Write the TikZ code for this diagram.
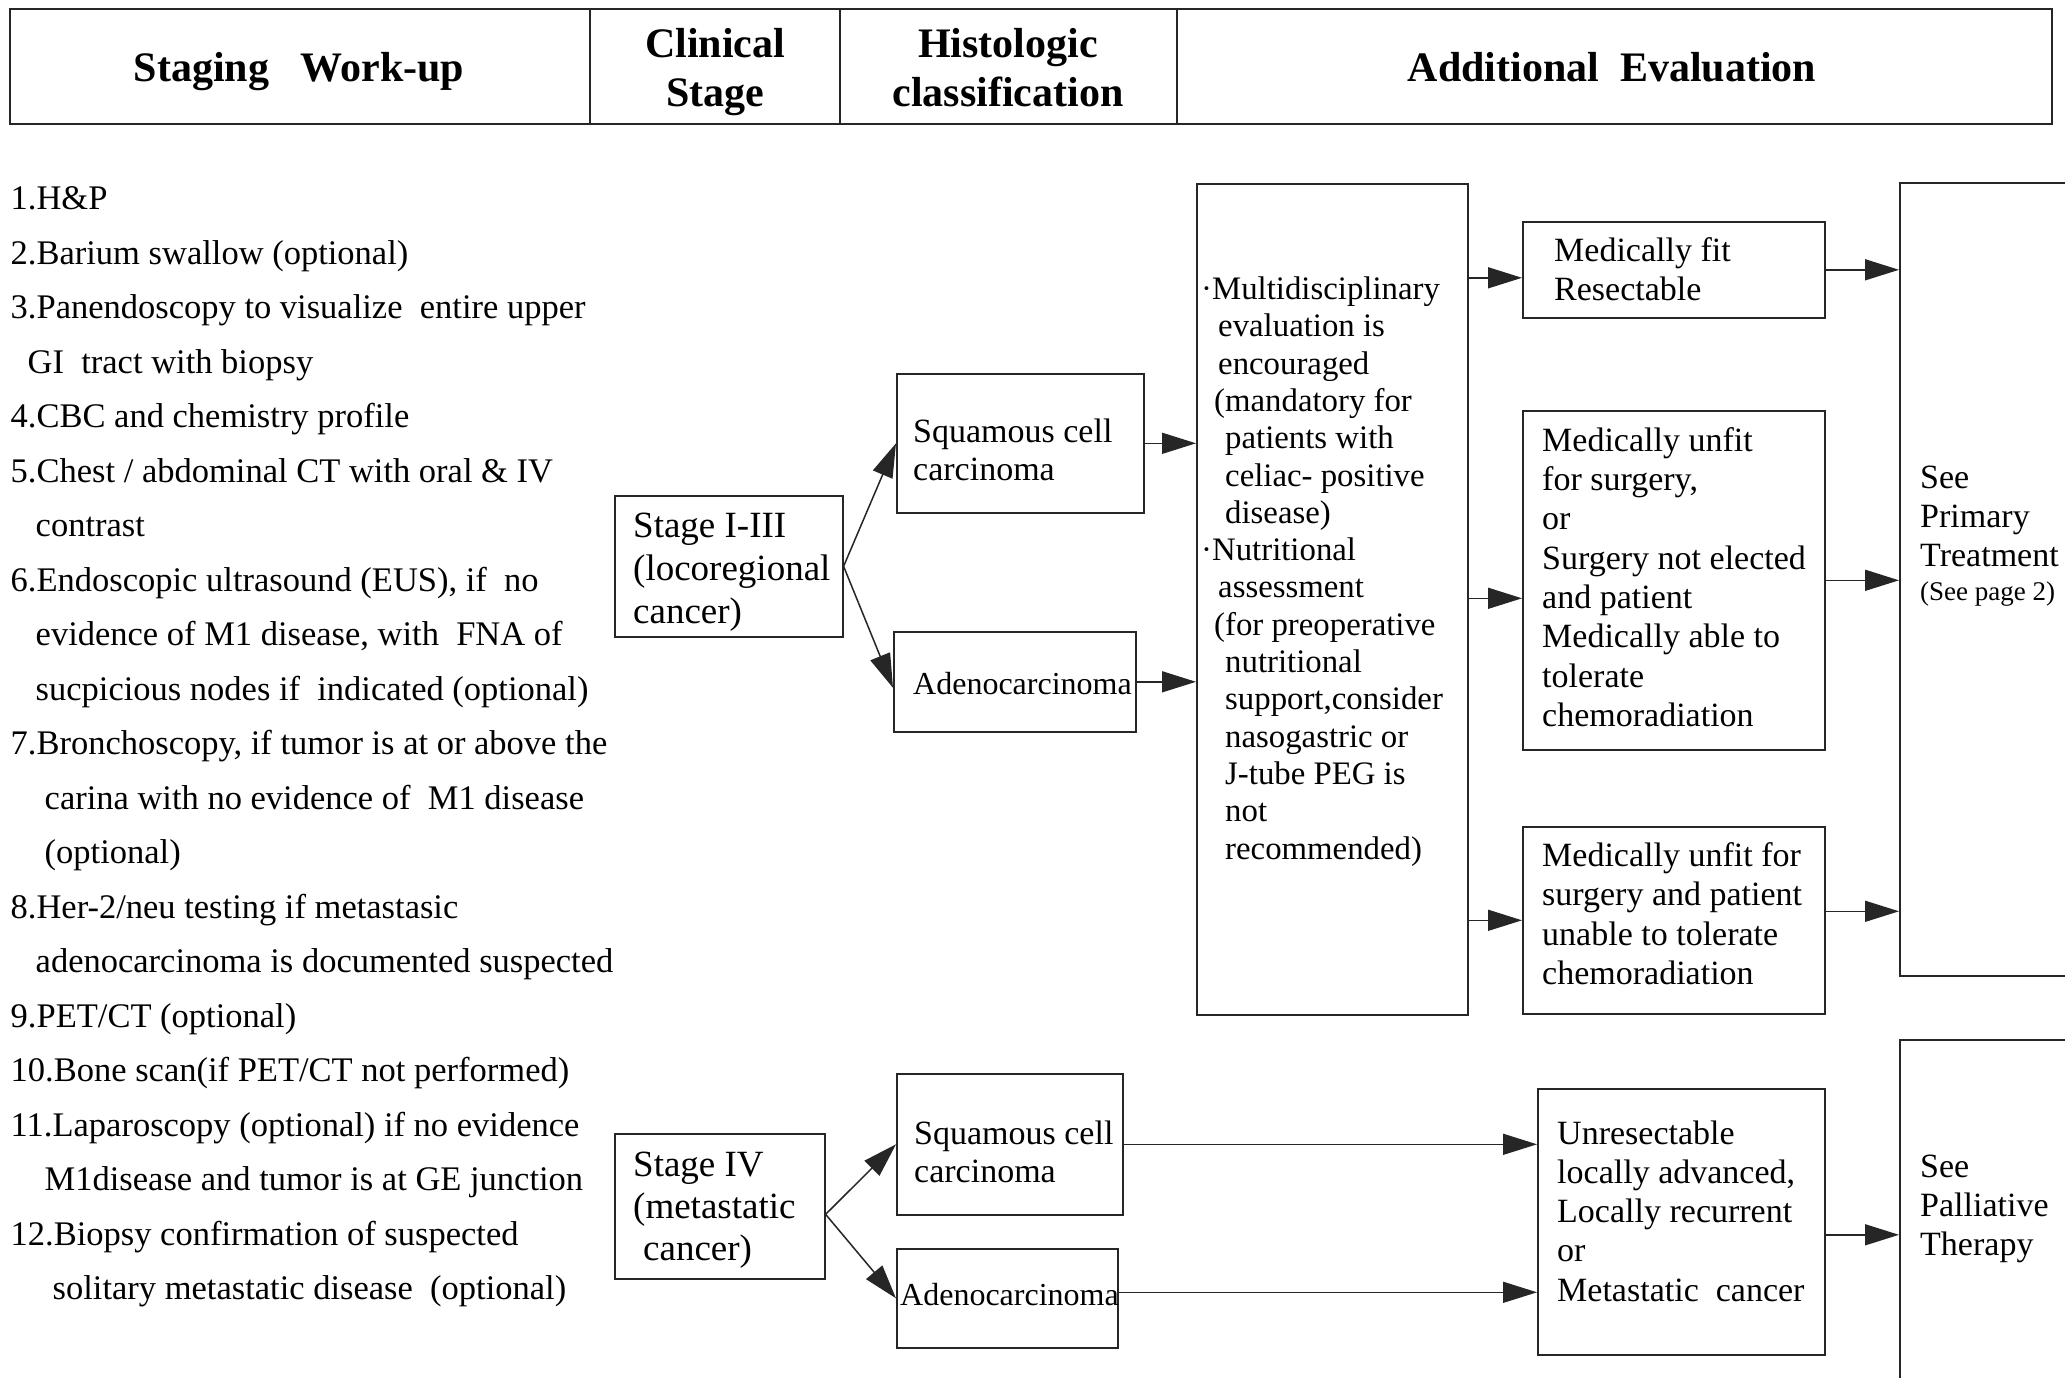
\documentclass[tikz,border=0pt]{standalone}
\usepackage{fontspec}
\setmainfont{Liberation Serif}
\usetikzlibrary{arrows.meta}
\newcommand{\firststrut}{\rule{0pt}{1em}}
\tikzset{
  box/.style={draw=black!85, line width=1.6pt, inner sep=0pt, anchor=north west},
  txt/.style={anchor=north west, inner sep=0pt, align=left},
  hdr/.style={anchor=north, inner sep=0pt, align=center, font=\fontsize{42}{49}\selectfont\bfseries},
  arr/.style={draw=black!85, line width=1.5pt, -{Triangle[length=34pt,width=21pt]}},
  rule/.style={draw=black!85, line width=1.6pt},
}
\begin{document}
\begin{tikzpicture}[x=1pt,y=1pt]
\useasboundingbox (0,0) rectangle (2065,-1378);
\clip (0,0) rectangle (2065,-1378);
\fill[white] (0,0) rectangle (2065,-1378);

% header
\node[box, minimum width=2042pt, minimum height=115pt] (head) at (9,-8) {};
\draw[rule] (590,-8) -- (590,-123);
\draw[rule] (840,-8) -- (840,-123);
\draw[rule] (1177,-8) -- (1177,-123);
\node[hdr] (h1) at (299,-39) {\firststrut Staging\ \ \ Work-up};
\node[hdr] (h2) at (715,-15) {\firststrut Clinical\\Stage};
\node[hdr] (h3) at (1008,-15) {\firststrut Histologic\\classification};
\node[hdr] (h4) at (1612,-39) {\firststrut Additional\ \ Evaluation};

% left list
\node[txt, font=\fontsize{34.5}{54.5}\selectfont] (list) at (10.5,-175) {\firststrut 1.H\&P\\
2.Barium swallow (optional)\\
3.Panendoscopy to visualize\ \ entire upper\\
\hspace*{17pt}GI\ \ tract with biopsy\\
4.CBC and chemistry profile\\
5.Chest / abdominal CT with oral \& IV\\
\hspace*{25pt}contrast\\
6.Endoscopic ultrasound (EUS), if\ \ no\\
\hspace*{25pt}evidence of M1 disease, with\ \ FNA of\\
\hspace*{25pt}sucpicious nodes if\ \ indicated (optional)\\
7.Bronchoscopy, if tumor is at or above the\\
\hspace*{34pt}carina with no evidence of\ \ M1 disease\\
\hspace*{34pt}(optional)\\
8.Her-2/neu testing if metastasic\\
\hspace*{25pt}adenocarcinoma is documented suspected\\
9.PET/CT (optional)\\
10.Bone scan(if PET/CT not performed)\\
11.Laparoscopy (optional) if no evidence\\
\hspace*{34pt}M1disease and tumor is at GE junction\\
12.Biopsy confirmation of suspected\\
\hspace*{42pt}solitary metastatic disease\ \ (optional)};

% boxes
\node[box, minimum width=228pt, minimum height=141pt] (stage13) at (614,-495) {};
\node[box, minimum width=247pt, minimum height=139pt] (sq1) at (896,-373) {};
\node[box, minimum width=242pt, minimum height=100pt] (ad1) at (893,-631) {};
\node[box, minimum width=271pt, minimum height=831pt] (multi) at (1196,-183) {};
\node[box, minimum width=302pt, minimum height=96pt] (fit) at (1522,-221) {};
\node[box, minimum width=302pt, minimum height=339pt] (unfit2) at (1522,-410) {};
\node[box, minimum width=302pt, minimum height=187pt] (unfit3) at (1522,-826) {};
\node[box, minimum width=250pt, minimum height=793pt] (prim) at (1899,-182) {};
\node[box, minimum width=210pt, minimum height=145pt] (stage4) at (614,-1133) {};
\node[box, minimum width=226pt, minimum height=141pt] (sq2) at (896,-1073) {};
\node[box, minimum width=221pt, minimum height=99pt] (ad2) at (896,-1248) {};
\node[box, minimum width=287pt, minimum height=266pt] (unres) at (1537,-1088) {};
\node[box, minimum width=250pt, minimum height=400pt] (pall) at (1899,-1039) {};

% texts
\node[txt, font=\fontsize{37}{43}\selectfont] (t13) at (633,-500) {\firststrut Stage I-III\\(locoregional\\cancer)};
\node[txt, font=\fontsize{34}{38}\selectfont] (tsq1) at (913,-408) {\firststrut Squamous cell\\carcinoma};
\node[anchor=base west, inner sep=0pt, font=\fontsize{32}{38}\selectfont] (tad1) at (913,-694) {Adenocarcinoma};
\node[txt, font=\fontsize{32.8}{37.3}\selectfont] (tmulti) at (1201,-266.5) {\firststrut ·Multidisciplinary\\
\hspace*{17pt}evaluation is\\
\hspace*{17pt}encouraged\\
\hspace*{13pt}(mandatory for\\
\hspace*{24pt}patients with\\
\hspace*{24pt}celiac- positive\\
\hspace*{24pt}disease)\\
·Nutritional\\
\hspace*{17pt}assessment\\
\hspace*{13pt}(for preoperative\\
\hspace*{24pt}nutritional\\
\hspace*{24pt}support,consider\\
\hspace*{24pt}nasogastric or\\
\hspace*{24pt}J-tube PEG is\\
\hspace*{24pt}not\\
\hspace*{24pt}recommended)};
\node[txt, font=\fontsize{34}{39.5}\selectfont] (tfit) at (1554,-227) {\firststrut Medically fit\\Resectable};
\node[txt, font=\fontsize{34}{39.3}\selectfont] (tunfit2) at (1542,-417) {\firststrut Medically unfit\\for surgery,\\or\\Surgery not elected\\and patient\\Medically able to\\tolerate\\chemoradiation};
\node[txt, font=\fontsize{34}{39.5}\selectfont] (tunfit3) at (1542,-832) {\firststrut Medically unfit for\\surgery and patient\\unable to tolerate\\chemoradiation};
\node[txt, font=\fontsize{34}{39}\selectfont] (tprim) at (1920,-454) {\firststrut See\\Primary\\Treatment};
\node[anchor=base west, inner sep=0pt, font=\fontsize{27}{30}\selectfont] (tpage) at (1920,-600) {(See page 2)};
\node[txt, font=\fontsize{37}{42}\selectfont] (t4) at (633,-1139) {\firststrut Stage IV\\(metastatic\\\hspace*{10pt}cancer)};
\node[txt, font=\fontsize{34}{38}\selectfont] (tsq2) at (914,-1110) {\firststrut Squamous cell\\carcinoma};
\node[anchor=base west, inner sep=0pt, font=\fontsize{32}{38}\selectfont] (tad2) at (900,-1305) {Adenocarcinoma};
\node[txt, font=\fontsize{34}{39.2}\selectfont] (tunres) at (1557,-1110) {\firststrut Unresectable\\locally advanced,\\Locally recurrent\\or\\Metastatic\ \ cancer};
\node[txt, font=\fontsize{34}{39}\selectfont] (tpall) at (1920,-1143) {\firststrut See\\Palliative\\Therapy};

% connectors
\draw[arr] (stage13.east) -- (sq1.west);
\draw[arr] (stage13.east) -- ([yshift=-6pt]ad1.west);
\draw[arr] (sq1.east) -- (multi.west |- sq1.east);
\draw[arr] (ad1.east) -- (multi.west |- ad1.east);
\draw[arr] ([yshift=-8pt]multi.east |- fit.west) -- ([yshift=-8pt]fit.west);
\draw[arr] ([yshift=-18pt]multi.east |- unfit2.west) -- ([yshift=-18pt]unfit2.west);
\draw[arr] (multi.east |- unfit3.west) -- (unfit3.west);
\draw[arr] (fit.east) -- (prim.west |- fit.east);
\draw[arr] (unfit2.east) -- (prim.west |- unfit2.east);
\draw[arr] ([yshift=9pt]unfit3.east) -- ([yshift=9pt]prim.west |- unfit3.east);
\draw[arr] ([yshift=-8pt]stage4.east) -- (sq2.west);
\draw[arr] ([yshift=-8pt]stage4.east) -- (ad2.west);
\draw[arr] (sq2.east) -- (unres.west |- sq2.east);
\draw[arr] ([yshift=6pt]ad2.east) -- ([yshift=6pt]unres.west |- ad2.east);
\draw[arr] ([yshift=-13pt]unres.east) -- ([yshift=-13pt]pall.west |- unres.east);
\end{tikzpicture}
\end{document}
